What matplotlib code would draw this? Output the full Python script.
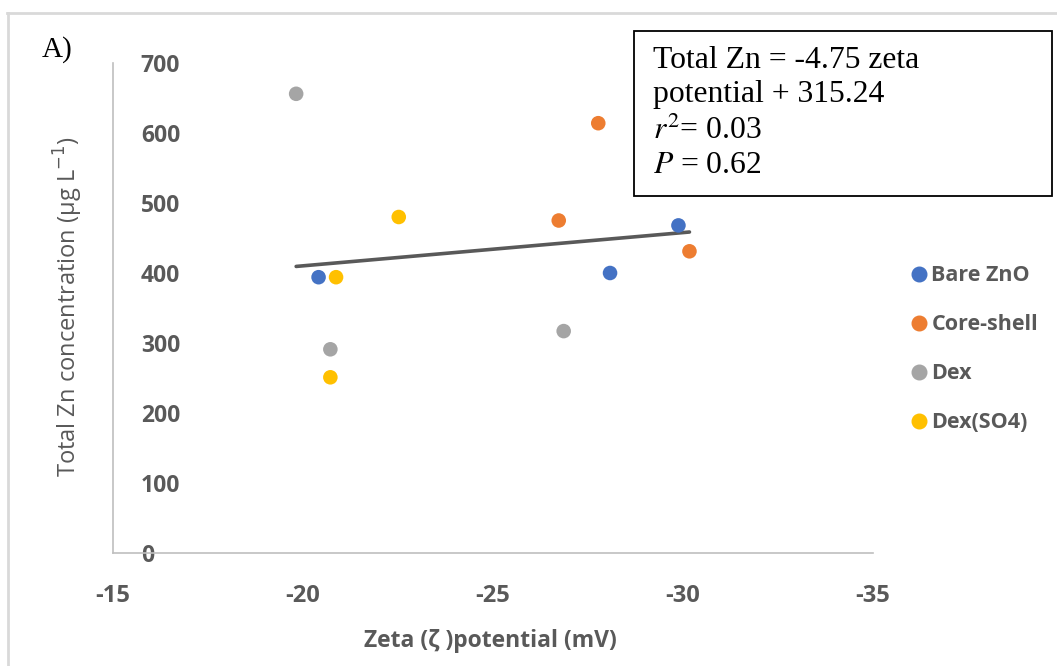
import matplotlib.pyplot as plt
from matplotlib.lines import Line2D

# zeta potential (mV) and total Zn (ug/L) per coating
series = ["Bare ZnO", "Core-shell", "Dex", "Dex(SO4)"]
colors = ["#4472C4", "#ED7D31", "#A5A5A5", "#FFC000"]
zeta = [
    [-20.41, -28.08, -29.88],
    [-27.77, -26.73, -30.17],
    [-19.82, -20.72, -26.86],
    [-22.52, -20.87, -20.72],
]
total_zn = [
    [394, 400, 468],
    [614, 475, 431],
    [656, 291, 317],
    [480, 394, 251],
]
slope, intercept = -4.75, 315.24
xticks = [-15, -20, -25, -30, -35]
yticks = [0, 100, 200, 300, 400, 500, 600, 700]

W, H = 1057, 666
GREY = "#595959"
fig = plt.figure(figsize=(W / 100, H / 100), dpi=100)
ax = fig.add_axes([113 / W, (H - 553) / H, (873 - 113) / W, (553 - 63) / H])

for name, c, xs, ys in zip(series, colors, zeta, total_zn):
    ax.scatter(xs, ys, s=110, color=c, edgecolors="none", label=name, zorder=3)

# linear trendline over the data range
all_x = [v for xs in zeta for v in xs]
x0, x1 = max(all_x), min(all_x)
ax.plot([x0, x1], [slope * x0 + intercept, slope * x1 + intercept],
        color=GREY, lw=2.6, solid_capstyle="round", zorder=2)

ax.set_xlim(-15, -35)
ax.set_ylim(0, 700)
ax.set_xticks(xticks)
ax.set_yticks(yticks)
ax.set_xticklabels([str(t) for t in xticks], fontfamily="Open Sans", fontweight="bold",
                   fontsize=17, color=GREY)
ax.set_yticklabels([str(t) for t in yticks], fontfamily="Open Sans", fontweight="bold",
                   fontsize=16.5, color=GREY, ha="left")
ax.tick_params(axis="x", length=0, pad=22)
ax.tick_params(axis="y", length=0, pad=-20)
for s in ["top", "right"]:
    ax.spines[s].set_visible(False)
for s in ["left", "bottom"]:
    ax.spines[s].set_color("#BFBFBF")
    ax.spines[s].set_linewidth(1.2)

fig.text(68 / W, 1 - 307 / H, "Total Zn concentration (µg L$^{-1}$)", rotation=90,
         ha="center", va="center", fontfamily="Open Sans", fontsize=17, color=GREY)
fig.text(490 / W, 1 - 641 / H, "Zeta (ζ )potential (mV)", ha="center", va="center",
         fontfamily="Open Sans", fontweight="bold", fontsize=16.5, color=GREY)
fig.text(42 / W, 1 - 50 / H, "A)", ha="left", va="center",
         fontfamily="Liberation Serif", fontsize=21)

# legend
handles = [Line2D([], [], marker="o", ls="none", ms=10.5, color=c) for c in colors]
leg = fig.legend(handles, series, loc="upper left", bbox_to_anchor=(883 / W, 1 - 246 / H),
                 frameon=False, handletextpad=-0.15, labelspacing=1.3, handlelength=1.5,
                 prop={"family": "Open Sans", "weight": "bold", "size": 15.5})
for t in leg.get_texts():
    t.set_color(GREY)

# regression box
box = plt.Rectangle((634 / W, 1 - 196 / H), (1052 - 634) / W, (196 - 31) / H,
                    transform=fig.transFigure, fill=False, ec="black", lw=1.3)
fig.add_artist(box)
fig.text(653 / W, 1 - 113 / H,
         "Total Zn = -4.75 zeta\npotential + 315.24\n$r^2$= 0.03\n$P$ = 0.62",
         ha="left", va="center", fontfamily="Liberation Serif", fontsize=22.8,
         linespacing=1.24, math_fontfamily="stix")

# outer frame (top and left edges)
fig.add_artist(Line2D([7 / W, 1], [1 - 12.5 / H, 1 - 12.5 / H], transform=fig.transFigure,
                      color="#D9D9D9", lw=2))
fig.add_artist(Line2D([7.5 / W, 7.5 / W], [0, 1 - 12.5 / H], transform=fig.transFigure,
                      color="#D9D9D9", lw=2))

fig.savefig("out.png", dpi=100)
